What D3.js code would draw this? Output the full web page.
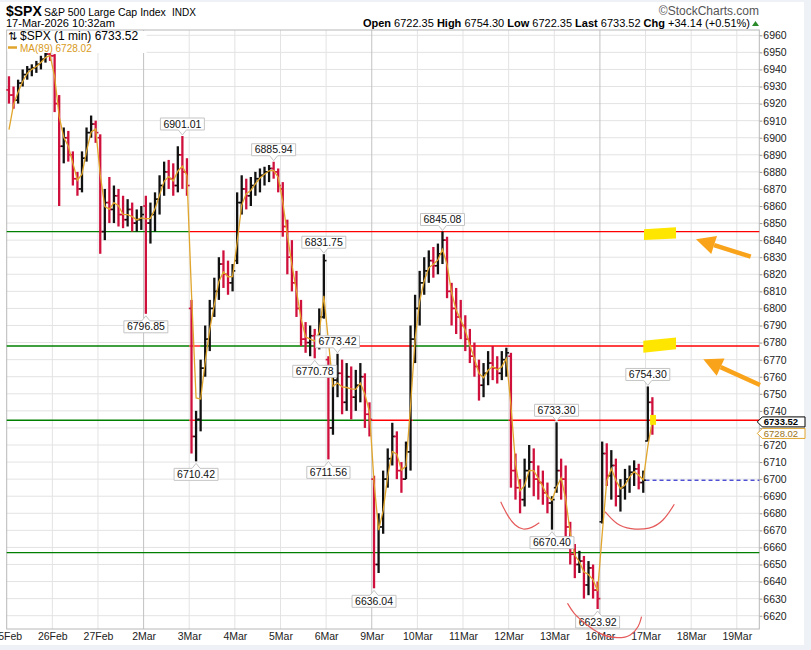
<!DOCTYPE html>
<html>
<head>
<meta charset="utf-8">
<script src="https://d3js.org/d3.v7.min.js"></script>
<style>
  body { margin: 0; background: #fff; }
  text { font-family: "Liberation Sans", Arial, sans-serif; }
</style>
</head>
<body>
<script>
// ---- data ----
var days = ["25Feb","26Feb","27Feb","2Mar","3Mar","4Mar","5Mar","6Mar","9Mar","10Mar","11Mar","12Mar","13Mar","16Mar","17Mar","18Mar","19Mar"];
var weekStarts = ["2Mar","9Mar","16Mar"];
var yTicks = [6620,6630,6640,6650,6660,6670,6680,6690,6700,6710,6720,6730,6740,6750,6760,6770,6780,6790,
              6800,6810,6820,6830,6840,6850,6860,6870,6880,6890,6900,6910,6920,6930,6940,6950,6960];

// closes of the last blocks of 24Feb, only used to warm up the MA
var priorCloses = [6885, 6890];
// open of the first block of each session
var dayOpen = [6928, 6948, 6900, 6860, 6800, 6828, 6870, 6770, 6700, 6800, 6790, 6772, 6695, 6675, 6722.35];
// [high, low, close] per ~39 minute block, ten blocks a session
var bars25Feb = [[6936,6920,6925],[6930,6917,6922],[6934,6920,6932],[6940,6930,6937],[6942,6934,6940],[6943,6936,6941],[6945,6938,6943],[6948,6940,6946],[6951,6944,6949],[6951,6945,6948]];
var bars26Feb = [[6949,6915,6920],[6925,6860,6895],[6906,6885,6900],[6904,6886,6890],[6892,6872,6876],[6880,6866,6870],[6892,6868,6888],[6906,6886,6903],[6913,6900,6908],[6910,6897,6903]];
var bars27Feb = [[6902,6832,6845],[6870,6840,6862],[6877,6850,6858],[6872,6850,6866],[6870,6848,6855],[6866,6847,6852],[6864,6848,6858],[6862,6845,6850],[6858,6845,6852],[6860,6846,6855]];
var bars2Mar  = [[6866,6796.85,6850],[6862,6838,6855],[6868,6845,6864],[6878,6855,6872],[6886,6866,6880],[6887,6870,6876],[6885,6866,6872],[6895,6868,6890],[6901.01,6870,6880],[6888,6866,6872]];
var bars3Mar  = [[6805,6715,6725],[6740,6710.42,6735],[6770,6728,6765],[6790,6760,6782],[6805,6775,6800],[6818,6795,6810],[6830,6805,6826],[6834,6812,6820],[6828,6808,6815],[6826,6810,6822]];
var bars4Mar  = [[6868,6826,6862],[6878,6855,6870],[6876,6858,6866],[6877,6860,6872],[6880,6866,6876],[6882,6868,6878],[6883,6872,6880],[6884,6874,6882],[6885.94,6876,6880],[6882,6868,6872]];
var bars5Mar  = [[6874,6842,6848],[6852,6820,6830],[6840,6810,6815],[6822,6795,6800],[6805,6778,6782],[6792,6774,6780],[6790,6772,6784],[6788,6770.78,6778],[6800,6776,6795],[6831.75,6794,6828]];
var bars6Mar  = [[6772,6711.56,6730],[6765,6726,6758],[6773.42,6748,6762],[6770,6738,6745],[6768,6740,6760],[6766,6735,6748],[6764,6740,6755],[6768,6745,6760],[6762,6730,6738],[6745,6725,6735]];
var bars9Mar  = [[6702,6636.04,6650],[6680,6645,6672],[6705,6668,6700],[6718,6695,6712],[6733,6708,6725],[6728,6700,6705],[6710,6692,6700],[6722,6700,6716],[6790,6705,6782],[6808,6768,6800]];
var bars10Mar = [[6822,6790,6815],[6830,6808,6822],[6834,6815,6828],[6836,6818,6825],[6838,6820,6832],[6845.08,6826,6840],[6842,6806,6810],[6815,6790,6800],[6812,6785,6795],[6805,6782,6790]];
var bars11Mar = [[6796,6775,6782],[6788,6768,6772],[6780,6760,6766],[6770,6746,6755],[6768,6748,6762],[6775,6755,6768],[6778,6758,6765],[6772,6756,6762],[6775,6758,6770],[6777,6760,6774]];
var bars12Mar = [[6774,6695,6705],[6715,6688,6695],[6700,6680,6688],[6712,6684,6705],[6720,6695,6710],[6718,6690,6700],[6708,6688,6698],[6705,6685,6692],[6698,6680,6686],[6690,6670.40,6688]];
var bars13Mar = [[6733.30,6692,6705],[6712,6688,6700],[6708,6665,6672],[6675,6650,6656],[6662,6642,6650],[6658,6645,6652],[6655,6630,6638],[6652,6632,6648],[6650,6630,6635],[6640,6623.92,6630]];
var bars16Mar = [[6722,6674,6715],[6721,6696,6702],[6717,6688,6708],[6712,6684,6690],[6700,6681,6695],[6706,6688,6700],[6708,6692,6704],[6711,6696,6706],[6709,6694,6698],[6705,6692,6699.38]];
var bars17Mar = [[6754.30,6722.35,6745],[6748,6726,6733.52]];
var sessions = [bars25Feb, bars26Feb, bars27Feb, bars2Mar, bars3Mar, bars4Mar, bars5Mar, bars6Mar,
                bars9Mar, bars10Mar, bars11Mar, bars12Mar, bars13Mar, bars16Mar, bars17Mar];

var maMinutes = 89, blockMinutes = 39;
var prevClose = 6699.38;
var lastMa = 6728.02, lastPrice = 6733.52;

// labelled swing highs / lows
var pivots = [[6901.01,"high"],[6885.94,"high"],[6796.85,"low"],[6710.42,"low"],[6831.75,"high"],
              [6773.42,"high"],[6770.78,"low"],[6711.56,"low"],[6845.08,"high"],[6636.04,"low"],
              [6733.30,"high"],[6670.40,"low"],[6623.92,"low"],[6754.30,"high"]];

// horizontal price lines: [price, from day, to day, colour]
var levelSegments = [
  [6845, 0, 4, "g"], [6845, 4, 17, "r"],
  [6778, 0, 4, "g"], [6778, 4, 4.24, "r"], [6778, 4.24, 6.82, "g"], [6778, 6.82, 8.9, "r"],
  [6778, 8.9, 10.15, "g"], [6778, 10.15, 17, "r"],
  [6734.5, 0, 4, "g"], [6734.5, 4, 4.17, "r"], [6734.5, 4.17, 8, "g"], [6734.5, 8, 8.9, "r"],
  [6734.5, 8.9, 11, "g"], [6734.5, 11, 17, "r"],
  [6657, 0, 17, "g"]
];

// hand-drawn marks, in [day, price]
var yellowMarks = [
  [[13.966,6846.4],[14.668,6847.5],[14.668,6840.9],[13.966,6840.1]],
  [[13.951,6781.1],[14.668,6782.9],[14.668,6776.1],[13.951,6774.1]],
  [[14.10,6737.6],[14.23,6737.6],[14.23,6731.8],[14.10,6731.8]]
];
var arrows = [
  {from: [16.305, 6830.3], to: [15.106, 6840.5]},
  {from: [16.509, 6755.1], to: [15.266, 6770.2]}
];
var redArcs = [
  [[10.826,6686.8],[10.963,6679.0],[11.139,6672.6],[11.315,6670.2],[11.512,6671.4],[11.672,6674.5]],
  [[13.113,6680.9],[13.368,6673.1],[13.660,6670.6],[14.098,6670.6],[14.390,6675.1],[14.631,6685.3]],
  [[12.290,6627.3],[12.417,6621.4],[12.665,6615.6],[13.002,6608.7],[13.401,6606.5],[13.682,6608.1],[13.857,6613.6],[13.912,6619.4]]
];

// ---- build series ----
var series = [];
sessions.forEach(function(s, di) {
  s.forEach(function(b, i) {
    var o = i === 0 ? dayOpen[di] : s[i - 1][2];
    series.push({t: di + (i + 0.5) / 10, o: o, h: b[0], l: b[1], c: b[2]});
  });
});
var closes = priorCloses.concat(series.map(function(d) { return d.c; }));
var full = Math.floor(maMinutes / blockMinutes), frac = maMinutes / blockMinutes - full;
series.forEach(function(d, i) {
  var k = i + priorCloses.length, sum = 0;
  for (var j = 0; j < full; j++) sum += closes[k - j];
  sum += frac * closes[k - full];
  d.ma = sum / (full + frac);
});

// ---- layout ----
var W = 811, H = 650;
var plotL = 6.7, plotR = 759.3, plotT = 30, plotB = 629;
var x = d3.scaleLinear().domain([0, 16]).range([plotL, 736.8]);
var y = d3.scaleLinear().domain([6620, 6960]).range([615.7, 35.3]);
var tEnd = x.invert(plotR);
var priceY = y(lastPrice), maY = Math.max(y(lastMa), priceY + 11.5);

var svg = d3.select("body").append("svg").attr("width", W).attr("height", H);
svg.append("rect").attr("width", W).attr("height", H).attr("fill", "#fff");
svg.append("rect").attr("x", 0).attr("y", 645).attr("width", W).attr("height", 5).attr("fill", "#eef1f5");
svg.append("rect").attr("x", 804).attr("y", 0).attr("width", 7).attr("height", H).attr("fill", "#eef1f5");
svg.append("rect").attr("x", 0).attr("y", 0).attr("width", W).attr("height", 2).attr("fill", "#eef1f5");

// header
svg.append("text").attr("x", 6).attr("y", 15.5).attr("font-size", 14).attr("font-weight", "bold").text("$SPX");
svg.append("text").attr("x", 44).attr("y", 15.5).attr("font-size", 10.5).text("S&P 500 Large Cap Index");
svg.append("text").attr("x", 172).attr("y", 15.5).attr("font-size", 10).text("INDX");
svg.append("text").attr("x", 759).attr("y", 14.5).attr("font-size", 12).attr("fill", "#555")
  .attr("text-anchor", "end").text("\u00a9StockCharts.com");
svg.append("text").attr("x", 6).attr("y", 27).attr("font-size", 11).text("17-Mar-2026 10:32am");

var quote = [["Open","6722.35"],["High","6754.30"],["Low","6722.35"],["Last","6733.52"],["Chg","+34.14 (+0.51%)"]];
var qt = svg.append("text").attr("x", 750).attr("y", 27).attr("font-size", 11).attr("text-anchor", "end");
quote.forEach(function(q, i) {
  qt.append("tspan").attr("font-weight", "bold").text((i ? "  " : "") + q[0] + " ");
  qt.append("tspan").text(q[1]);
});
svg.append("path").attr("d", "M752,26 L755.5,21 L759,26 Z").attr("fill", "#2a8a2a");

// grid
var grid = svg.append("g");
grid.selectAll(".hg").data(yTicks).join("line")
  .attr("x1", plotL).attr("x2", plotR)
  .attr("y1", function(d) { return y(d); }).attr("y2", function(d) { return y(d); })
  .attr("stroke", "#e3e3e3").attr("stroke-width", 1);
grid.selectAll(".vg").data(days.slice(1)).join("line")
  .attr("x1", function(d) { return x(days.indexOf(d)); }).attr("x2", function(d) { return x(days.indexOf(d)); })
  .attr("y1", plotT).attr("y2", plotB)
  .attr("stroke", function(d) { return weekStarts.indexOf(d) >= 0 ? "#c2c2c2" : "#e3e3e3"; })
  .attr("stroke-width", 1);

// axes (tick labels hidden behind the value tags are left out)
var yAxis = svg.append("g").attr("transform", "translate(" + plotR + ",0)")
  .call(d3.axisRight(y).tickValues(yTicks).tickSize(3).tickPadding(1)
    .tickFormat(function(d) { var yy = y(d); return (yy > priceY - 9 && yy < maY + 9) ? "" : d; }));
yAxis.select(".domain").remove();
yAxis.selectAll("line").attr("stroke", "#999");
yAxis.selectAll("text").attr("font-size", 10.5).attr("fill", "#222").style("font-family", "Liberation Sans, Arial, sans-serif");

var xAxis = svg.append("g").attr("transform", "translate(0," + plotB + ")")
  .call(d3.axisBottom(x).tickValues(d3.range(days.length)).tickSize(0).tickPadding(4)
    .tickFormat(function(i) { return days[i]; }));
xAxis.select(".domain").remove();
xAxis.selectAll("text").attr("font-size", 10.5).attr("fill", "#222").style("font-family", "Liberation Sans, Arial, sans-serif");

// border
svg.append("rect").attr("x", plotL).attr("y", plotT).attr("width", plotR - plotL).attr("height", plotB - plotT)
  .attr("fill", "none").attr("stroke", "#b8b8b8").attr("stroke-width", 1);

// price lines
svg.append("g").selectAll("line").data(levelSegments).join("line")
  .attr("x1", function(d) { return x(d[1]); })
  .attr("x2", function(d) { return x(Math.min(d[2], tEnd)); })
  .attr("y1", function(d) { return y(d[0]); }).attr("y2", function(d) { return y(d[0]); })
  .attr("stroke", function(d) { return d[3] === "g" ? "#008000" : "#ff0000"; })
  .attr("stroke-width", 1.3);

svg.append("line").attr("x1", x(14)).attr("x2", plotR).attr("y1", y(prevClose)).attr("y2", y(prevClose))
  .attr("stroke", "#0000c0").attr("stroke-width", 1).attr("stroke-dasharray", "4,3");

// bars
var bar = svg.append("g").selectAll("g").data(series).join("g")
  .attr("stroke", function(d) { return d.c >= d.o ? "#111" : "#d0103c"; });
bar.append("line").attr("stroke-width", 2.3)
  .attr("x1", function(d) { return x(d.t); }).attr("x2", function(d) { return x(d.t); })
  .attr("y1", function(d) { return y(d.h); }).attr("y2", function(d) { return y(d.l); });
bar.append("line").attr("stroke-width", 1.6)
  .attr("x1", function(d) { return x(d.t) - 2.7; }).attr("x2", function(d) { return x(d.t); })
  .attr("y1", function(d) { return y(d.o); }).attr("y2", function(d) { return y(d.o); });
bar.append("line").attr("stroke-width", 1.6)
  .attr("x1", function(d) { return x(d.t); }).attr("x2", function(d) { return x(d.t) + 2.7; })
  .attr("y1", function(d) { return y(d.c); }).attr("y2", function(d) { return y(d.c); });

// moving average
svg.append("path").datum(series)
  .attr("d", d3.line().x(function(d) { return x(d.t); }).y(function(d) { return y(d.ma); }))
  .attr("fill", "none").attr("stroke", "#e0a52c").attr("stroke-width", 1.3);

// pivot labels
var pg = svg.append("g");
pivots.forEach(function(p) {
  var b = series.find(function(d) { return (p[1] === "high" ? d.h : d.l) === p[0]; });
  var cx = x(b.t), py = y(p[0]);
  var g = pg.append("g");
  var txt = g.append("text").text(p[0].toFixed(2)).attr("font-size", 10.5)
    .attr("text-anchor", "middle").attr("x", cx).attr("fill", "#111");
  var w = txt.node().getComputedTextLength() + 6, hh = 12, x0 = cx - w / 2, x1 = cx + w / 2, d;
  if (p[1] === "high") {
    var yb = py - 6, top = yb - hh;
    d = "M" + x0 + "," + top + "H" + x1 + "V" + yb + "H" + (cx + 4) + "L" + cx + "," + (yb + 5) +
        "L" + (cx - 4) + "," + yb + "H" + x0 + "Z";
    txt.attr("y", top + 9.6);
  } else {
    var tp = py + 7, bt = tp + hh;
    d = "M" + x0 + "," + tp + "H" + (cx - 4) + "L" + cx + "," + (tp - 5) + "L" + (cx + 4) + "," + tp +
        "H" + x1 + "V" + bt + "H" + x0 + "Z";
    txt.attr("y", tp + 9.6);
  }
  g.insert("path", "text").attr("d", d).attr("fill", "#fff").attr("stroke", "#c4c4c4").attr("stroke-width", 1);
});

// hand-drawn marks
svg.append("g").selectAll("path").data(yellowMarks).join("path")
  .attr("d", function(pts) { return "M" + pts.map(function(p) { return x(p[0]) + "," + y(p[1]); }).join("L") + "Z"; })
  .attr("fill", "#ffe600");
svg.append("g").selectAll("path").data(redArcs).join("path")
  .attr("d", d3.line().curve(d3.curveBasis).x(function(p) { return x(p[0]); }).y(function(p) { return y(p[1]); }))
  .attr("fill", "none").attr("stroke", "#e55a5a").attr("stroke-width", 1.2);
var ag = svg.append("g").attr("fill", "#f9a31b").attr("stroke", "#f9a31b");
arrows.forEach(function(a) {
  var tx = x(a.to[0]), ty = y(a.to[1]), fx = x(a.from[0]), fy = y(a.from[1]);
  var dx = tx - fx, dy = ty - fy, len = Math.sqrt(dx * dx + dy * dy);
  var ux = dx / len, uy = dy / len, bx = tx - ux * 19, by = ty - uy * 19;
  ag.append("line").attr("x1", fx).attr("y1", fy).attr("x2", bx).attr("y2", by)
    .attr("stroke-width", 4.5);
  ag.append("path").attr("stroke", "none")
    .attr("d", "M" + tx + "," + ty + "L" + (bx - uy * 9.5) + "," + (by + ux * 9.5) +
               "L" + (bx + uy * 9.5) + "," + (by - ux * 9.5) + "Z");
});

// right-axis value tags
function tag(yc, v, stroke, color, bold) {
  var g = svg.append("g");
  g.append("path").attr("d", "M" + (plotR - 2) + "," + yc + "L" + (plotR + 3) + "," + (yc - 5) + "H805V" +
      (yc + 5) + "H" + (plotR + 3) + "Z")
    .attr("fill", "#fff").attr("stroke", stroke).attr("stroke-width", 1);
  g.append("text").attr("x", plotR + 4.5).attr("y", yc + 3.4).attr("font-size", 9.5)
    .attr("font-weight", bold ? "bold" : "normal").attr("fill", color).text(v.toFixed(2));
}
tag(maY, lastMa, "#e0a52c", "#9a7420", false);
tag(priceY, lastPrice, "#000", "#000", true);

// legend
var lg = svg.append("g");
lg.append("rect").attr("x", 7.5).attr("y", 31).attr("width", 139).attr("height", 22).attr("fill", "#fff");
lg.append("text").attr("x", 8).attr("y", 40).attr("font-size", 11).style("font-family", "DejaVu Sans").text("\u21c5");
lg.append("text").attr("x", 20).attr("y", 40).attr("font-size", 12).text("$SPX (1 min) 6733.52");
lg.append("line").attr("x1", 8).attr("x2", 17).attr("y1", 47.5).attr("y2", 47.5).attr("stroke", "#e0a52c").attr("stroke-width", 2.5);
lg.append("text").attr("x", 20).attr("y", 51.5).attr("font-size", 10).attr("fill", "#d89a20").text("MA(89) 6728.02");
</script>
</body>
</html>
